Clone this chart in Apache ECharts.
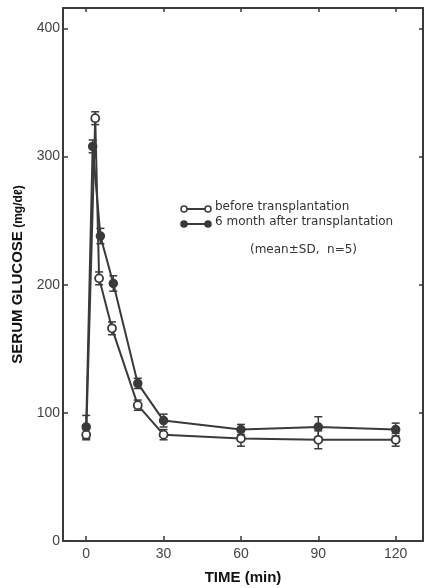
<!DOCTYPE html>
<html><head><meta charset="utf-8">
<script src="https://cdn.jsdelivr.net/npm/echarts@6/dist/echarts.min.js"></script>
<style>html,body{margin:0;padding:0;background:#fff}#c{width:426px;height:588px}</style>
</head><body><div id="c"></div>
<script>
// Data (time in min, serum glucose mg/dl, SD)
const beforeTime = [0, 3.5, 5, 10, 20, 30, 60, 90, 120];
const beforeMean = [83, 330, 205, 166, 106, 83, 80, 79, 79];
const beforeSD   = [4, 5, 5, 5, 4, 4, 6, 7, 5];
const afterTime  = [0, 2.5, 5.5, 10.5, 20, 30, 60, 90, 120];
const afterMean  = [89, 308, 238, 201, 123, 94, 87, 89, 87];
const afterSD    = [9, 5, 6, 6, 4, 5, 4, 8, 5];
const xTicks = [0, 30, 60, 90, 120];
const yTicks = [0, 100, 200, 300, 400];
const seriesNames = ['before transplantation', '6 month after transplantation'];

const INK = '#3a3a3a';
const FONT = 'Liberation Sans';
const LFONT = 'DejaVu Sans';

function pairs(t, v) { return t.map((x, i) => [x, v[i]]); }
function errData(t, v, s) { return t.map((x, i) => [x, v[i] - s[i], v[i] + s[i]]); }
function errRender(params, api) {
  const x = api.value(0), lo = api.value(1), hi = api.value(2);
  const p1 = api.coord([x, lo]), p2 = api.coord([x, hi]);
  const w = 4;
  const st = { stroke: INK, lineWidth: 1.5, fill: null };
  return { type: 'group', children: [
    { type: 'line', shape: { x1: p1[0], y1: p1[1], x2: p2[0], y2: p2[1] }, style: st },
    { type: 'line', shape: { x1: p1[0]-w, y1: p1[1], x2: p1[0]+w, y2: p1[1] }, style: st },
    { type: 'line', shape: { x1: p2[0]-w, y1: p2[1], x2: p2[0]+w, y2: p2[1] }, style: st }
  ]};
}

const axisCommon = {
  type: 'value',
  splitLine: { show: false },
  axisLine: { show: true, onZero: false, lineStyle: { color: INK, width: 2 } },
};
const xMin = -9, xMax = 130.6, yMin = 0, yMax = 416;

const chart = echarts.init(document.getElementById('c'), null, { renderer: 'canvas' });
chart.setOption({
  animation: false,
  backgroundColor: '#fff',
  grid: { left: 63, right: 3, top: 8, bottom: 47, containLabel: false, outerBoundsMode: 'none' },
  xAxis: [
    Object.assign({}, axisCommon, {
      min: xMin, max: xMax, position: 'bottom',
      axisTick: { show: true, inside: true, length: 5, customValues: xTicks, lineStyle: { color: INK, width: 1.5 } },
      axisLabel: { customValues: xTicks, color: '#444', fontFamily: FONT, fontSize: 14, margin: 6 },
      name: 'TIME (min)', nameLocation: 'middle', nameGap: 29,
      nameTextStyle: { fontFamily: FONT, fontWeight: 'bold', fontSize: 15, color: '#111' }
    }),
    Object.assign({}, axisCommon, {
      min: xMin, max: xMax, position: 'top',
      axisTick: { show: true, inside: true, length: 4, customValues: xTicks, lineStyle: { color: INK, width: 1.5 } },
      axisLabel: { show: false }
    })
  ],
  yAxis: [
    Object.assign({}, axisCommon, {
      min: yMin, max: yMax, position: 'left',
      axisTick: { show: true, inside: true, length: 5, customValues: yTicks, lineStyle: { color: INK, width: 1.5 } },
      axisLabel: { customValues: yTicks, color: '#444', fontFamily: FONT, fontSize: 14, margin: 3 },
      name: '{b|SERUM GLUCOSE} {s|(mg/dℓ)}', nameLocation: 'middle', nameGap: 36, nameRotate: 90,
      nameTextStyle: { rich: {
        b: { fontFamily: FONT, fontWeight: 'bold', fontSize: 15, color: '#111' },
        s: { fontFamily: FONT, fontWeight: 'bold', fontSize: 12, color: '#111' } } }
    }),
    Object.assign({}, axisCommon, {
      min: yMin, max: yMax, position: 'right',
      axisTick: { show: true, inside: true, length: 4, customValues: yTicks, lineStyle: { color: INK, width: 1.5 } },
      axisLabel: { show: false }
    })
  ],
  series: [
    { type: 'custom', name: 'errB', renderItem: errRender, data: errData(beforeTime, beforeMean, beforeSD), z: 1, silent: true },
    { type: 'custom', name: 'errA', renderItem: errRender, data: errData(afterTime, afterMean, afterSD), z: 1, silent: true },
    { type: 'line', name: seriesNames[0], data: pairs(beforeTime, beforeMean), z: 3,
      lineStyle: { color: INK, width: 2 }, symbol: 'circle', symbolSize: 8, showAllSymbol: true,
      itemStyle: { color: '#fff', borderColor: INK, borderWidth: 1.8 } },
    { type: 'line', name: seriesNames[1], data: pairs(afterTime, afterMean), z: 3,
      lineStyle: { color: INK, width: 2 }, symbol: 'circle', symbolSize: 8, showAllSymbol: true,
      itemStyle: { color: INK, borderColor: INK, borderWidth: 1.5 } }
  ],
  graphic: [
    { type: 'line', shape: { x1: 184, y1: 209, x2: 208, y2: 209 }, style: { stroke: INK, lineWidth: 2 } },
    { type: 'circle', shape: { cx: 184, cy: 209, r: 3 }, style: { fill: '#fff', stroke: INK, lineWidth: 1.5 } },
    { type: 'circle', shape: { cx: 208, cy: 209, r: 3 }, style: { fill: '#fff', stroke: INK, lineWidth: 1.5 } },
    { type: 'text', left: 215, top: 201, style: { text: seriesNames[0], font: '12px ' + LFONT, fill: '#333' } },
    { type: 'line', shape: { x1: 184, y1: 224, x2: 208, y2: 224 }, style: { stroke: INK, lineWidth: 2 } },
    { type: 'circle', shape: { cx: 184, cy: 224, r: 3 }, style: { fill: INK, stroke: INK, lineWidth: 1.5 } },
    { type: 'circle', shape: { cx: 208, cy: 224, r: 3 }, style: { fill: INK, stroke: INK, lineWidth: 1.5 } },
    { type: 'text', left: 215, top: 216, style: { text: seriesNames[1], font: '12px ' + LFONT, fill: '#333' } },
    { type: 'text', left: 250, top: 244, style: { text: '(mean±SD,  n=5)', font: '12px ' + LFONT, fill: '#333' } }
  ]
});
</script></body></html>
